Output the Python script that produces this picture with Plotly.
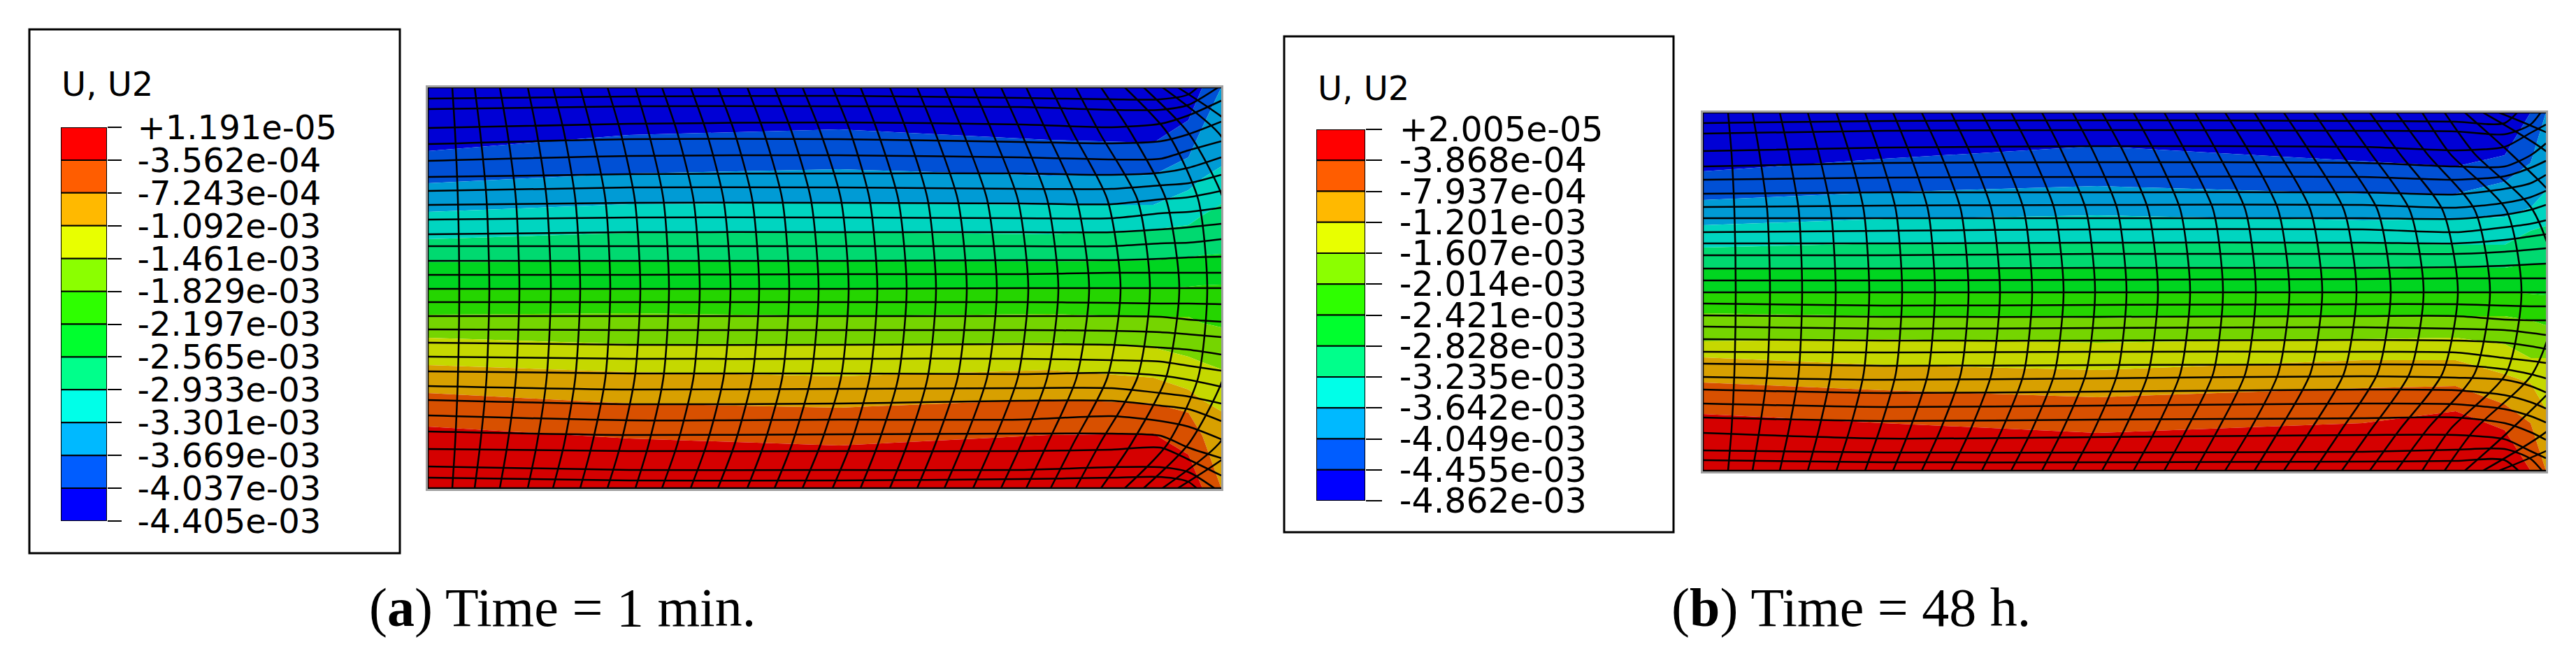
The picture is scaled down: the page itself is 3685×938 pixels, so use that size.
import plotly.graph_objects as go

W, H = 3685, 938

# legend colours, top to bottom, and the darker shaded ones on the model
legend_colours = ["#FF0000", "#FF5D00", "#FFB900", "#E8FF00", "#8BFF00", "#2EFF00",
                  "#00FF2E", "#00FF8B", "#00FFE8", "#00B9FF", "#005DFF", "#0000FF"]
band_colours = ["#0000D5", "#0050D5", "#009BD5", "#00D5C0", "#00D970", "#00D520",
                "#25D500", "#75D500", "#C5D800", "#D8A000", "#D85000", "#D50000"]

a_levels = [1.191e-05, -3.562e-04, -7.243e-04, -1.092e-03, -1.461e-03, -1.829e-03, -2.197e-03,
            -2.565e-03, -2.933e-03, -3.301e-03, -3.669e-03, -4.037e-03, -4.405e-03]
a_labels = ["+1.191e-05", "-3.562e-04", "-7.243e-04", "-1.092e-03", "-1.461e-03", "-1.829e-03", "-2.197e-03",
            "-2.565e-03", "-2.933e-03", "-3.301e-03", "-3.669e-03", "-4.037e-03", "-4.405e-03"]
b_levels = [2.005e-05, -3.868e-04, -7.937e-04, -1.201e-03, -1.607e-03, -2.014e-03, -2.421e-03,
            -2.828e-03, -3.235e-03, -3.642e-03, -4.049e-03, -4.455e-03, -4.862e-03]
b_labels = ["+2.005e-05", "-3.868e-04", "-7.937e-04", "-1.201e-03", "-1.607e-03", "-2.014e-03", "-2.421e-03",
            "-2.828e-03", "-3.235e-03", "-3.642e-03", "-4.049e-03", "-4.455e-03", "-4.862e-03"]

# contour band boundaries: height of each boundary at the listed stations
a_band_x = [612, 900, 1200, 1500, 1650, 1700, 1720, 1747]
a_bands = [
    [125, 125, 125, 125, 125, 125, 125, 125],
    [216, 193, 185, 200, 204, 172, 125, 125],
    [262, 248, 242, 251, 250, 225, 182, 125],
    [303, 292, 290, 293, 293, 272, 255, 238],
    [342, 333, 332, 335, 328, 322, 308, 292],
    [375, 373, 374, 374, 372, 368, 365, 363],
    [413, 413, 413, 413, 413, 410, 408, 407],
    [450, 448, 452, 449, 453, 453, 462, 468],
    [483, 492, 493, 490, 497, 510, 518, 528],
    [522, 532, 538, 529, 540, 557, 572, 588],
    [562, 577, 583, 571, 577, 590, 623, 698],
    [610, 627, 637, 622, 620, 650, 698, 698],
    [698, 698, 698, 698, 698, 698, 698, 698],
]
b_band_x = [2436, 2695, 3000, 3380, 3513, 3583, 3620, 3642]
b_bands = [
    [161, 161, 161, 161, 161, 161, 161, 161],
    [245, 227, 209, 230, 238, 222, 161, 161],
    [286, 275, 266, 277, 277, 260, 233, 161],
    [322, 313, 308, 315, 313, 310, 297, 273],
    [354, 348, 346, 347, 350, 350, 330, 323],
    [385, 385, 383, 385, 383, 383, 377, 377],
    [418, 418, 419, 418, 418, 417, 420, 422],
    [448, 452, 455, 452, 452, 452, 458, 465],
    [488, 485, 490, 485, 483, 492, 512, 512],
    [511, 522, 529, 515, 515, 535, 548, 585],
    [547, 558, 568, 555, 552, 578, 605, 673],
    [592, 605, 619, 605, 588, 615, 673, 673],
    [673, 673, 673, 673, 673, 673, 673, 673],
]

# mesh rows: height of each row line at the listed stations
a_row_x = [612, 900, 1200, 1460, 1590, 1660, 1700, 1747]
a_rows = [
    [125, 125, 125, 125, 125, 125, 125, 125],
    [141, 138, 137, 140, 142, 142, 135, 90],
    [156, 152, 152, 153, 157, 157, 150, 122],
    [183, 177, 175, 178, 182, 177, 165, 144],
    [206, 199, 199, 203, 205, 202, 192, 174],
    [230, 223, 222, 225, 228, 227, 215, 202],
    [253, 249, 248, 248, 250, 247, 240, 225],
    [273, 268, 268, 270, 270, 265, 262, 250],
    [293, 290, 290, 291, 292, 285, 282, 273],
    [314, 311, 311, 312, 312, 305, 303, 297],
    [335, 332, 332, 332, 332, 328, 325, 320],
    [352, 352, 352, 352, 352, 348, 347, 342],
    [373, 373, 373, 372, 372, 370, 368, 367],
    [393, 393, 392, 392, 390, 390, 390, 390],
    [413, 413, 413, 412, 412, 412, 412, 412],
    [432, 432, 432, 432, 433, 434, 434, 435],
    [452, 452, 452, 452, 452, 453, 457, 460],
    [471, 472, 472, 472, 473, 475, 478, 482],
    [490, 493, 493, 492, 493, 497, 500, 507],
    [510, 513, 513, 513, 515, 517, 523, 530],
    [531, 534, 534, 535, 533, 537, 543, 553],
    [552, 557, 556, 555, 555, 562, 567, 577],
    [572, 578, 577, 573, 573, 580, 585, 602],
    [594, 601, 600, 600, 595, 602, 610, 628],
    [617, 622, 621, 620, 620, 623, 640, 655],
    [642, 645, 645, 645, 643, 640, 657, 680],
    [667, 672, 672, 672, 668, 668, 675, 705],
    [683, 687, 687, 685, 683, 682, 689, 735],
    [698, 698, 698, 698, 698, 698, 698, 698],
]
b_row_x = [2436, 2695, 3000, 3380, 3513, 3583, 3620, 3642]
b_rows = [
    [161, 161, 161, 161, 161, 161, 161, 161],
    [176, 173, 172, 173, 174, 176, 140, 120],
    [191, 187, 186, 187, 188, 192, 178, 150],
    [216, 211, 209, 210, 215, 210, 190, 178],
    [238, 233, 232, 233, 238, 238, 222, 205],
    [257, 254, 253, 253, 257, 252, 240, 230],
    [277, 275, 275, 275, 278, 270, 262, 250],
    [296, 294, 293, 293, 297, 290, 282, 273],
    [312, 312, 312, 312, 313, 307, 300, 293],
    [332, 330, 328, 328, 332, 325, 320, 315],
    [348, 348, 347, 347, 348, 343, 338, 335],
    [365, 365, 363, 363, 363, 360, 357, 355],
    [384, 384, 383, 383, 382, 380, 378, 377],
    [401, 401, 400, 399, 398, 398, 398, 398],
    [418, 418, 418, 418, 418, 418, 418, 418],
    [434, 437, 436, 435, 435, 437, 438, 438],
    [451, 453, 453, 452, 452, 457, 458, 458],
    [467, 470, 469, 468, 470, 472, 476, 479],
    [485, 487, 487, 486, 487, 490, 495, 499],
    [503, 504, 503, 503, 504, 512, 516, 519],
    [520, 523, 522, 521, 522, 528, 535, 541],
    [539, 543, 541, 538, 540, 543, 552, 561],
    [557, 562, 560, 557, 558, 565, 575, 584],
    [577, 582, 580, 577, 578, 585, 595, 604],
    [597, 602, 600, 598, 597, 605, 618, 629],
    [619, 627, 625, 622, 622, 628, 645, 655],
    [644, 647, 647, 646, 643, 642, 656, 680],
    [658, 661, 661, 660, 659, 658, 690, 710],
    [673, 673, 673, 673, 673, 673, 673, 673],
]

# mesh columns: position along the block at four heights, top and bottom halves nearly mirror
a_col_y = [125, 190, 285, 413, 540, 635, 698]
a_col_edge = [612, 647, 679, 715, 755, 791, 830, 869, 909, 947, 988, 1027, 1069, 1108, 1148, 1191, 1231, 1273, 1312, 1351,
              1392, 1432, 1468, 1503, 1539, 1575, 1609, 1636, 1663, 1685]
a_col_inner = [612, 651, 687, 726, 768, 807, 847, 888, 928, 969, 1011, 1051, 1093, 1133, 1174, 1217, 1256, 1298, 1338, 1378,
               1420, 1461, 1498, 1535, 1573, 1618, 1670, 1700, 1743, 1777]
a_col_near = [612, 655, 696, 738, 782, 823, 866, 908, 949, 992, 1035, 1076, 1119, 1160, 1203, 1244, 1285, 1327, 1370, 1412,
              1456, 1498, 1540, 1584, 1627, 1668, 1714, 1750, 1800, 1850]
a_col_mid = [612, 657, 700, 743, 788, 830, 873, 916, 957, 1001, 1045, 1086, 1129, 1171, 1214, 1255, 1297, 1339, 1383, 1426,
             1471, 1514, 1558, 1603, 1645, 1687, 1727, 1770, 1830, 1900]
b_col_y = [161, 220, 300, 417, 534, 614, 673]
b_col_edge = [2436, 2472, 2507, 2546, 2586, 2627, 2668, 2708, 2749, 2791, 2835, 2877, 2921, 2965, 3007, 3052, 3096, 3140, 3183, 3225,
              3267, 3310, 3350, 3390, 3428, 3465, 3497, 3526, 3552, 3575]
b_col_inner = [2436, 2477, 2517, 2559, 2602, 2646, 2689, 2732, 2776, 2819, 2864, 2907, 2951, 2996, 3039, 3084, 3128, 3173, 3219, 3261,
               3306, 3350, 3392, 3433, 3472, 3505, 3540, 3592, 3647, 3700]
b_col_near = [2436, 2481, 2528, 2573, 2619, 2666, 2712, 2758, 2805, 2849, 2895, 2939, 2984, 3029, 3073, 3119, 3166, 3212, 3259, 3305,
              3353, 3401, 3447, 3494, 3540, 3585, 3623, 3670, 3720, 3760]
b_col_mid = [2436, 2483, 2532, 2578, 2626, 2674, 2721, 2768, 2816, 2861, 2907, 2952, 2997, 3042, 3087, 3133, 3180, 3227, 3275, 3322,
             3371, 3420, 3467, 3516, 3562, 3607, 3660, 3720, 3780, 3820]


def dom_x(left, right):
    return [left / W, right / W]


def dom_y(top, bottom):
    return [1 - bottom / H, 1 - top / H]


fig = go.Figure()


def add_mesh(ax, band_x, bands, row_x, rows, col_y, edge, inner, near, mid):
    xa, ya = "x" + ax, "y" + ax
    # filled contour bands
    fig.add_trace(go.Scatter(x=band_x, y=bands[0], mode="lines", line=dict(width=0),
                             xaxis=xa, yaxis=ya, hoverinfo="skip"))
    for i, colour in enumerate(band_colours):
        fig.add_trace(go.Scatter(x=band_x, y=bands[i + 1], mode="lines", line=dict(width=0),
                                 fill="tonexty", fillcolor=colour, xaxis=xa, yaxis=ya, hoverinfo="skip"))
    # mesh lines
    for row in rows:
        fig.add_trace(go.Scatter(x=row_x, y=row, mode="lines", line=dict(color="black", width=2.5, shape="spline", smoothing=0.7),
                                 xaxis=xa, yaxis=ya, hoverinfo="skip"))
    for c in range(len(edge)):
        col = [edge[c], inner[c], near[c], mid[c], near[c], inner[c], edge[c]]
        fig.add_trace(go.Scatter(x=col, y=col_y, mode="lines", line=dict(color="black", width=2.5, shape="spline", smoothing=0.7),
                                 xaxis=xa, yaxis=ya, hoverinfo="skip"))


def add_legend_bar(ax, levels):
    heights = [levels[i] - levels[i + 1] for i in range(12)]
    fig.add_trace(go.Bar(x=[0] * 12, y=heights, base=levels[1:], width=1,
                         marker=dict(color=legend_colours, line=dict(color="black", width=2)),
                         xaxis="x" + ax, yaxis="y" + ax, hoverinfo="skip"))


add_mesh("", a_band_x, a_bands, a_row_x, a_rows, a_col_y, a_col_edge, a_col_inner, a_col_near, a_col_mid)
add_mesh("2", b_band_x, b_bands, b_row_x, b_rows, b_col_y, b_col_edge, b_col_inner, b_col_near, b_col_mid)
add_legend_bar("3", a_levels)
add_legend_bar("4", b_levels)

mesh_edge = dict(showline=True, mirror=True, linecolor="#a0a0a0", linewidth=3, showgrid=False, zeroline=False,
                 showticklabels=False, ticks="")
hidden = dict(visible=False, range=[-0.5, 0.5])
label_font = dict(family="DejaVu Sans", color="black")

fig.update_layout(
    width=W, height=H,
    margin=dict(l=0, r=0, t=0, b=0, autoexpand=False),
    paper_bgcolor="white", plot_bgcolor="white",
    showlegend=False, barmode="overlay",
    xaxis=dict(domain=dom_x(612, 1747), range=[612, 1747], **mesh_edge),
    yaxis=dict(domain=dom_y(125, 699), range=[699, 125], **mesh_edge),
    xaxis2=dict(domain=dom_x(2436, 3642), range=[2436, 3642], anchor="y2", **mesh_edge),
    yaxis2=dict(domain=dom_y(161, 674), range=[674, 161], anchor="x2", **mesh_edge),
    xaxis3=dict(domain=dom_x(87, 153), anchor="y3", **hidden),
    yaxis3=dict(domain=dom_y(182, 745), range=[a_levels[-1], a_levels[0]], anchor="x3", side="right",
                tickmode="array", tickvals=a_levels, ticktext=a_labels, ticks="outside", ticklen=20, tickwidth=2,
                tickcolor="black", ticklabelstandoff=13, showgrid=False, zeroline=False, showline=False,
                tickfont=dict(size=48, **label_font)),
    xaxis4=dict(domain=dom_x(1883, 1953), anchor="y4", **hidden),
    yaxis4=dict(domain=dom_y(185, 716), range=[b_levels[-1], b_levels[0]], anchor="x4", side="right",
                tickmode="array", tickvals=b_levels, ticktext=b_labels, ticks="outside", ticklen=23, tickwidth=2,
                tickcolor="black", ticklabelstandoff=15, showgrid=False, zeroline=False, showline=False,
                tickfont=dict(size=49, **label_font)),
)

# legend frames
for x0, x1, y0, y1 in [(42, 572, 42, 791), (1837, 2394, 52, 761)]:
    fig.add_shape(type="rect", xref="paper", yref="paper", x0=x0 / W, x1=x1 / W, y0=1 - y1 / H, y1=1 - y0 / H,
                  line=dict(color="black", width=3), fillcolor="rgba(0,0,0,0)")

for x, y, txt in [(86, 120, "U, U2"), (1883, 126, "U, U2")]:
    fig.add_annotation(x=x / W, y=1 - y / H, xref="paper", yref="paper", text=txt, showarrow=False,
                       xanchor="left", yanchor="middle", font=dict(size=48, **label_font))

for x, txt in [(526, "(<b>a</b>) Time = 1 min."), (2389, "(<b>b</b>) Time = 48 h.")]:
    fig.add_annotation(x=x / W, y=1 - 868 / H, xref="paper", yref="paper", text=txt, showarrow=False,
                       xanchor="left", yanchor="middle", font=dict(family="Liberation Serif", size=78, color="black"))

fig.write_html("out.html", config={"displayModeBar": False}, post_script="document.body.style.margin='0';")
